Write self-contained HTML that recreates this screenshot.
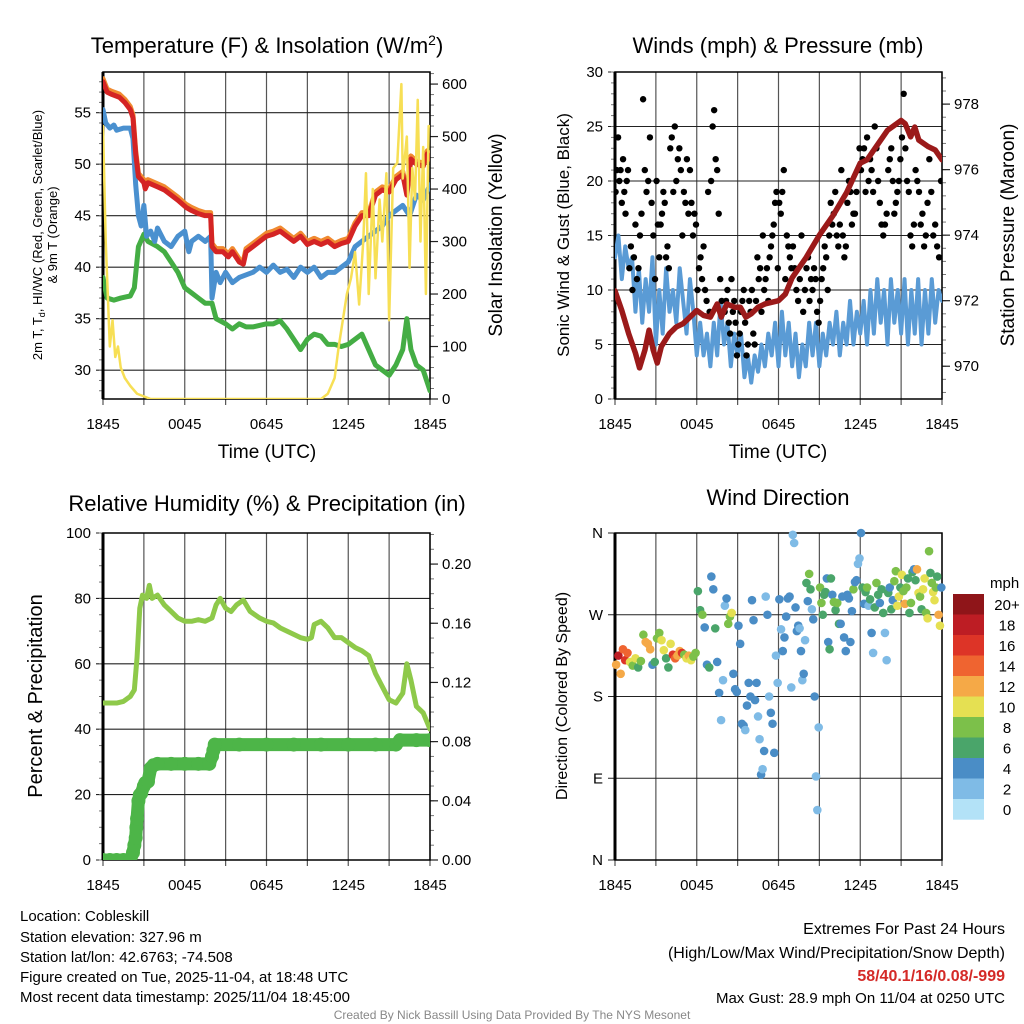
<!DOCTYPE html>
<html><head><meta charset="utf-8">
<style>
html,body{margin:0;padding:0;background:#fff;}
svg{display:block;font-family:"Liberation Sans",sans-serif;}
</style></head>
<body>
<svg id="chart" width="1024" height="1024" viewBox="0 0 1024 1024" xmlns="http://www.w3.org/2000/svg">
<defs>
<clipPath id="c1"><rect x="103" y="72" width="327" height="327"/></clipPath>
<clipPath id="c2"><rect x="615" y="72" width="327" height="327"/></clipPath>
<clipPath id="c3"><rect x="103" y="533" width="327" height="327"/></clipPath>
<clipPath id="c4"><rect x="615" y="533" width="327" height="327"/></clipPath>
</defs>
<text x="267" y="53" font-size="22" text-anchor="middle">Temperature (F) &amp; Insolation (W/m<tspan dy="-8" font-size="14">2</tspan><tspan dy="8">)</tspan></text>
<text x="778" y="53" font-size="22" text-anchor="middle">Winds (mph) &amp; Pressure (mb)</text>
<text x="267" y="511" font-size="22" text-anchor="middle">Relative Humidity (%) &amp; Precipitation (in)</text>
<text x="778" y="505" font-size="22" text-anchor="middle">Wind Direction</text>

<text transform="translate(42,235) rotate(-90)" font-size="13" text-anchor="middle">2m T, T<tspan dy="3" font-size="9">d</tspan><tspan dy="-3">, HI/WC (Red, Green, Scarlet/Blue)</tspan></text>
<text transform="translate(57,235) rotate(-90)" font-size="13" text-anchor="middle">&amp; 9m T (Orange)</text>
<text transform="translate(502,235) rotate(-90)" font-size="19" text-anchor="middle">Solar Insolation (Yellow)</text>
<text transform="translate(569,235) rotate(-90)" font-size="17" text-anchor="middle">Sonic Wind &amp; Gust (Blue, Black)</text>
<text transform="translate(1014,235) rotate(-90)" font-size="19" text-anchor="middle">Station Pressure (Maroon)</text>
<text transform="translate(42,696) rotate(-90)" font-size="20" text-anchor="middle">Percent &amp; Precipitation</text>
<text transform="translate(567,696) rotate(-90)" font-size="16" text-anchor="middle">Direction (Colored By Speed)</text>
<text x="267" y="458" font-size="19" text-anchor="middle">Time (UTC)</text>
<text x="778" y="458" font-size="19" text-anchor="middle">Time (UTC)</text>

<g font-size="15">
<text x="20" y="921">Location: Cobleskill</text>
<text x="20" y="942">Station elevation: 327.96 m</text>
<text x="20" y="962">Station lat/lon: 42.6763; -74.508</text>
<text x="20" y="982">Figure created on Tue, 2025-11-04, at 18:48 UTC</text>
<text x="20" y="1002">Most recent data timestamp: 2025/11/04 18:45:00</text>
</g>
<g font-size="16" text-anchor="end">
<text x="1005" y="934">Extremes For Past 24 Hours</text>
<text x="1005" y="958">(High/Low/Max Wind/Precipitation/Snow Depth)</text>
<text x="1005" y="981" fill="#d42a27" font-weight="bold">58/40.1/16/0.08/-999</text>
<text x="1005" y="1003" font-size="15">Max Gust: 28.9 mph On 11/04 at 0250 UTC</text>
</g>
<text x="512" y="1019" font-size="12" fill="#888" text-anchor="middle">Created By Nick Bassill Using Data Provided By The NYS Mesonet</text>
<g id="root"></g>
</svg>
<script>
// ---- data ----
const timeTickLabels = ["1845","0045","0645","1245","1845"];
const tempTicks = [30,35,40,45,50,55];
const solarTicks = [0,100,200,300,400,500,600];
const windTicks = [0,5,10,15,20,25,30];
const presTicks = [970,972,974,976,978];
const rhTicks = [0,20,40,60,80,100];
const precipTicks = [0,0.04,0.08,0.12,0.16,0.20];
const dirTicks = [0,90,180,270,360];
const dirLabels = ["N","E","S","W","N"];
const speedBins = ["0","2","4","6","8","10","12","14","16","18","20+"];
const speedColors = ["#b3e2f7","#7fbbe6","#4a8dc6","#4aa56a","#7cc04a","#e5e052","#f5a947","#ef6430","#dd3427","#bd1d24","#8f1519"];

const redT = [[0,58],[0.3,57],[0.6,56.8],[1.2,56.5],[1.6,56],[2.0,55.3],[2.2,54.5],[2.4,51],[2.6,48.8],[3.0,48.2],[3.1,47.6],[3.3,48.2],[4,47.8],[4.5,47.5],[5.5,46.5],[6.1,45.8],[6.5,45.5],[7,45.2],[7.5,45],[7.9,45],[8.0,42],[8.3,41.5],[8.8,41.5],[9.2,41],[9.5,41.5],[10,40.5],[10.3,40.3],[10.5,41.5],[11,42],[11.5,42.5],[12,43],[12.5,43.2],[13,43.5],[13.5,43],[14,42.5],[14.5,43],[15,42.2],[15.5,42.5],[16,42.2],[16.5,42.5],[17,42],[17.5,42.3],[18,42.5],[18.5,44],[19,45],[19.5,45],[20,47],[20.5,47.5],[21,47.3],[21.5,48.5],[22,49],[22.3,47],[22.6,50.5],[23,50],[23.5,49.8],[23.8,51],[24,50.5]];
const blueT = [[0,55.3],[0.2,54],[0.5,53.5],[0.8,53.8],[1,53.3],[1.5,53.5],[2,53.5],[2.2,52.5],[2.4,48],[2.6,45],[2.8,44],[3,46],[3.2,43],[3.5,43.5],[3.8,42.5],[4,43.8],[4.5,42.5],[5,42],[5.5,43],[6,43.5],[6.3,41.5],[6.5,42.5],[7,43],[7.5,42.5],[7.9,43],[8,37],[8.3,39.5],[8.6,38.5],[9,39.5],[9.5,38.5],[10,39],[11,39.5],[11.5,40],[12,39.5],[12.5,40.2],[13,39.5],[13.5,39.8],[14,39],[14.5,40],[15,39.5],[15.5,40],[16,39],[16.5,39.5],[17,39.5],[17.5,40],[18,40.5],[18.5,42],[19,42.5],[19.5,43],[20,43.5],[20.5,44],[21,45],[21.5,45.5],[22,46],[22.5,45],[23,47],[23.5,46.5],[24,48]];
const greenT = [[0,39],[0.3,37],[0.8,36.8],[1.3,37],[2,37.2],[2.3,38],[2.6,42],[3,43.2],[3.3,42.5],[4,42],[4.5,41.5],[5,40.5],[5.5,39.5],[6,38],[6.5,37.5],[7,37],[7.5,36.5],[8,36.5],[8.3,35],[9,34.5],[9.5,34],[10,34.5],[10.5,34.2],[11,34.2],[12,34.5],[12.5,34.5],[13,34.8],[13.5,34],[14,33],[14.5,32],[15,33],[15.5,33.5],[16,33.3],[16.5,32.5],[17,32.5],[17.5,32.3],[18,32.5],[18.5,33],[19,33.5],[19.5,32],[20,30.5],[20.5,30],[21,29.5],[21.5,30.5],[22,32],[22.3,35],[22.6,32],[23,30.5],[23.5,30],[24,28]];
const solar = [[0,520],[0.2,300],[0.5,100],[0.7,150],[0.9,80],[1.1,100],[1.3,60],[1.6,40],[2,25],[2.5,10],[3,5],[3.5,0],[16,0],[16.5,10],[17,40],[17.3,100],[17.6,150],[17.9,200],[18.2,230],[18.5,280],[18.8,180],[19.1,300],[19.3,430],[19.5,200],[19.8,400],[20,230],[20.3,380],[20.5,300],[20.8,430],[21,150],[21.3,440],[21.6,450],[21.9,600],[22,420],[22.3,500],[22.5,250],[22.7,440],[22.9,380],[23.1,570],[23.3,300],[23.5,480],[23.7,200],[23.9,520],[24,520]];
const windSpd = [[0,13],[0.25,15],[0.5,11],[0.75,14],[1,12],[1.25,13],[1.5,8],[1.75,12],[2,7],[2.25,11],[2.5,8],[2.75,13],[3,5],[3.25,10],[3.5,6],[3.75,12],[4,8],[4.25,10],[4.5,7],[4.75,12],[5,9],[5.25,6],[5.5,11],[5.75,8],[6,4],[6.25,7],[6.5,4],[6.75,6],[7,3],[7.25,7],[7.5,4],[7.75,9],[8,5],[8.25,7],[8.5,3],[8.75,6],[9,4],[9.25,6],[9.5,2],[9.75,4],[10,1.5],[10.25,4],[10.5,2.5],[10.75,5],[11,3],[11.25,6],[11.5,4],[11.75,7],[12,3],[12.25,8],[12.5,4],[12.75,7],[13,3],[13.25,6],[13.5,2],[13.75,5],[14,3],[14.25,7],[14.5,4],[14.75,7],[15,3],[15.25,6],[15.5,4],[15.75,7],[16,5],[16.25,8],[16.5,4],[16.75,7],[17,5],[17.25,9],[17.5,5],[17.75,8],[18,6],[18.25,9],[18.5,5],[18.75,10],[19,6],[19.25,11],[19.5,7],[19.75,10],[20,5],[20.25,11],[20.5,7],[20.75,10],[21,6],[21.25,11],[21.5,5],[21.75,10],[22,6],[22.25,11],[22.5,5],[22.75,10],[23,6],[23.25,11],[23.5,7],[23.75,10],[24,9]];
const pressure = [[0,972.3],[0.5,971.7],[1,971],[1.5,970.4],[1.8,969.95],[2.2,970.5],[2.5,971.1],[2.8,970.5],[3.1,970.1],[3.4,970.6],[4,971.0],[4.5,971.2],[5,971.3],[5.5,971.5],[6,971.7],[6.5,971.55],[7,971.5],[7.5,971.9],[7.8,971.5],[8.2,971.9],[8.8,971.8],[9.2,971.8],[9.6,971.5],[10,971.6],[10.5,971.8],[11,971.9],[12,972.0],[12.5,972.2],[13,972.7],[14,973.3],[15,974.0],[16,974.6],[17,975.3],[18,976.2],[18.5,976.3],[19,976.6],[20,977.2],[21,977.5],[21.3,977.4],[21.7,977.0],[22,977.3],[22.3,976.9],[23,976.7],[23.5,976.6],[24,976.3]];
const gustByHour = [[19,21,24,20,21,18,22,19,17,20,21],[12,14,10,13,16,11,12,15,17],[27.5,21,19,20,24,18,15,11],[20,16,13,16,17,19,18,13,14,12],[23,24,19,25,20,22,23,21,15],[19,18,22,17,21,18,15,17,16],[10,12,13,11,14,10,9,19,8],[20,25,26.5,22,21,17,11,9,8],[8,9,10,7,6,11,8,9,7,4],[5,6,8,9,10,7,4,5,9,8],[10,6,5,9,13,11,12,8,15,10],[11,12,9,13,14,15,16,18,19,12],[18,17,19,21,11,15,14,13,12],[14,12,10,9,11,15,8,10],[12,13,9,11,10,12,11,8,7],[9,11,12,14,13,10,15,18,16],[17,19,15,14,16,21,15,13,14],[18,20,19,16,17,17,19,21,23],[21,22,23,19,24,20,22,21,19],[25,23,20,18,16,15,16,17],[21,22,23,20,17,18,19,20,22],[24,28,23,20,19,15,14,16],[21,20,19,16,17,14,15,18],[22,19,15,16,14,13,20]];
const rh = [[0,48],[0.5,48],[1,48],[1.5,48.5],[2,50],[2.3,52],[2.5,62],[2.7,77],[2.9,81],[3.2,80],[3.4,84],[3.6,80],[4,81],[4.5,78],[5,76],[5.5,74],[6,73],[6.5,73],[7,73.5],[7.5,73],[8,74],[8.3,78],[8.6,80],[9,77],[9.4,76],[9.8,78],[10.3,79.5],[10.8,76],[11.5,74],[12,73],[12.5,72.5],[13,71],[13.5,70],[14,69],[14.5,68],[15,67.5],[15.3,68],[15.5,72],[16,73],[16.5,71],[17,68],[17.5,68],[18,66.5],[18.5,65],[19,64],[19.5,62.5],[20,57],[20.5,53],[21,49],[21.5,48],[22,51],[22.3,60],[22.6,55],[23,47],[23.5,45],[24,40]];
const precip = [[0,0],[0.5,0],[1,0],[1.5,0],[2,0],[2.2,0.005],[2.3,0.01],[2.4,0.015],[2.45,0.022],[2.5,0.028],[2.6,0.04],[2.7,0.044],[2.8,0.045],[3.0,0.05],[3.1,0.052],[3.3,0.053],[3.5,0.062],[3.7,0.064],[4,0.065],[5,0.065],[6,0.065],[7,0.065],[7.8,0.065],[8.0,0.07],[8.1,0.074],[8.2,0.078],[10,0.078],[12,0.078],[14,0.078],[16,0.078],[18,0.078],[20,0.078],[21.5,0.078],[21.8,0.081],[23,0.081],[24,0.081]];
const dirByHour = [
[[215,12],[225,18],[205,13],[232,14],[220,16],[228,15]],
[[218,10],[214,8],[222,10],[212,6],[219,9]],
[[248,8],[240,12],[238,12],[232,12],[215,4],[218,6]],
[[244,8],[250,8],[242,10],[231,10],[222,6],[212,6]],
[[238,11],[226,16],[222,14],[225,12],[230,12],[228,16]],
[[226,8],[222,10],[225,12],[220,10],[224,8],[228,8]],
[[296,6],[275,6],[270,8],[256,4],[215,4],[212,6]],
[[312,4],[298,4],[255,6],[218,4],[184,4],[154,2],[198,2]],
[[280,2],[288,4],[260,8],[268,8],[272,10],[205,4],[188,4],[185,4]],
[[258,4],[238,4],[150,4],[148,4],[143,2],[170,4],[195,4],[180,4]],
[[286,4],[264,4],[176,4],[195,4],[158,2],[133,2],[94,4],[100,2],[120,4]],
[[290,2],[270,4],[180,2],[162,4],[150,4],[118,4],[225,2],[195,2]],
[[287,4],[254,2],[230,4],[245,4],[268,4],[288,4],[290,4],[190,2]],
[[358,2],[349,2],[278,4],[252,4],[258,4],[255,2],[230,4],[198,2],[205,4],[242,2]],
[[305,6],[285,4],[315,8],[298,6],[276,2],[265,4],[180,4],[92,2],[55,2],[146,2]],
[[300,8],[283,8],[270,6],[292,6],[295,6],[310,4],[240,4],[232,6],[310,6],[292,4]],
[[284,8],[275,6],[283,8],[260,6],[260,4],[290,4],[245,4],[230,4]],
[[292,4],[288,4],[240,4],[274,4],[298,8],[306,4],[308,4],[326,2],[332,2]],
[[360,4],[300,6],[282,4],[295,6],[300,8],[280,2],[287,6],[250,4],[228,2]],
[[278,6],[305,8],[292,6],[283,4],[298,6],[272,6],[250,2],[220,2]],
[[294,6],[300,4],[276,6],[286,4],[307,8],[318,8],[280,10],[290,10],[300,6]],
[[314,10],[296,8],[282,12],[300,8],[310,6],[272,6],[283,8],[317,6],[320,4]],
[[308,6],[320,12],[294,10],[290,8],[276,6],[298,10],[310,10],[272,8],[266,10]],
[[340,8],[316,6],[305,8],[295,10],[286,10],[300,8],[312,6],[270,12],[258,10],[300,4]]];

// ---- drawing ----
const NS="http://www.w3.org/2000/svg";
const root=document.getElementById('root');
function mk(tag,attrs,parent){const e=document.createElementNS(NS,tag);for(const k in attrs)e.setAttribute(k,attrs[k]);(parent||root).appendChild(e);return e;}
function lin(d0,d1,r0,r1){return v=>r0+(v-d0)/(d1-d0)*(r1-r0);}

const panels=[
 {id:'temp',x0:103,x1:430,y0:72,y1:399,lmin:27.2,lmax:58.95,lt:tempTicks,lf:v=>v,lminor:1,rmin:0,rmax:623,rt:solarTicks,rf:v=>v,rminor:20,hgrid:tempTicks,clip:'c1'},
 {id:'winds',x0:615,x1:942,y0:72,y1:399,lmin:0,lmax:30,lt:windTicks,lf:v=>v,lminor:1,rmin:969.0,rmax:978.98,rt:presTicks,rf:v=>v,rminor:0.4,hgrid:windTicks,clip:'c2'},
 {id:'rh',x0:103,x1:430,y0:533,y1:860,lmin:0,lmax:100,lt:rhTicks,lf:v=>v,lminor:5,rmin:0,rmax:0.221,rt:precipTicks,rf:v=>v.toFixed(2),rminor:0.01,hgrid:rhTicks,clip:'c3'},
 {id:'dir',x0:615,x1:942,y0:533,y1:860,lmin:0,lmax:360,lt:dirTicks,lf:(v,i)=>dirLabels[i],lminor:0,rmin:null,hgrid:dirTicks,clip:'c4'}
];
panels.forEach(p=>{
 p.X=lin(0,24,p.x0,p.x1);p.YL=lin(p.lmin,p.lmax,p.y1,p.y0);
 if(p.rmin!==null)p.YR=lin(p.rmin,p.rmax,p.y1,p.y0);
 const g=mk('g',{});
 
 
 for(let h=0;h<=24;h+=3){const l=mk('line',{x1:p.X(h),x2:p.X(h),y1:p.y0,y2:p.y1+6,stroke:'#555','stroke-width':1.2},g);
  
  }
 p.hgrid.forEach(v=>{const l=mk('line',{x1:p.x0-7,x2:p.x1,y1:p.YL(v),y2:p.YL(v),stroke:'#222','stroke-width':1.1},g);
  
  });
 if(p.lminor){for(let v=Math.ceil(p.lmin/p.lminor)*p.lminor;v<=p.lmax;v+=p.lminor){mk('line',{x1:p.x0-4,x2:p.x0,y1:p.YL(v),y2:p.YL(v),stroke:'#777','stroke-width':1},g);}}
 p.lt.forEach((v,i)=>{const t=mk('text',{x:p.x0-12,y:p.YL(v)+5,'font-size':15,'text-anchor':'end'},g);t.textContent=p.lf(v,i);
  
  });
 if(p.rmin!==null){
  for(let v=Math.ceil(p.rmin/p.rminor)*p.rminor;v<=p.rmax;v+=p.rminor){mk('line',{x1:p.x1,x2:p.x1+4,y1:p.YR(v),y2:p.YR(v),stroke:'#777','stroke-width':1},g);}
  p.rt.forEach(v=>{mk('line',{x1:p.x1,x2:p.x1+8,y1:p.YR(v),y2:p.YR(v),stroke:'#222','stroke-width':1.2},g);
   const t=mk('text',{x:p.x1+12,y:p.YR(v)+5,'font-size':15},g);t.textContent=p.rf(v);
   
   });
 }
 timeTickLabels.forEach((s,i)=>{const t=mk('text',{x:p.X(i*6),y:p.y1+30,'font-size':15,'text-anchor':'middle'},g);t.textContent=s;
  
  });
 const fr=mk('rect',{x:p.x0,y:p.y0,width:p.x1-p.x0,height:p.y1-p.y0,fill:'none',stroke:'#000','stroke-width':1.5},g);
 
 
 mk('line',{x1:p.x0,x2:p.x0,y1:p.y0,y2:p.y1,stroke:'#000','stroke-width':3},g);
});
function line(p,data,Y,color,w,name){
 const e=mk('polyline',{points:data.map(d=>p.X(d[0])+','+Y(d[1])).join(' '),fill:'none',stroke:color,'stroke-width':w,'stroke-linejoin':'round','stroke-linecap':'round','clip-path':'url(#'+p.clip+')'});
 
 
 return e;
}
const P1=panels[0],P2=panels[1],P3=panels[2],P4=panels[3];
line(P1,greenT,P1.YL,'#44ad44',5,'dewpoint-line');
line(P1,blueT,P1.YL,'#4a90cf',5,'wind-chill-line');
line(P1,redT.map(d=>[d[0],d[1]+0.3]),P1.YL,'#f08a30',5,'temp-9m-line');
line(P1,redT,P1.YL,'#d42424',5,'temp-2m-line');
line(P1,solar,P1.YR,'#f7df55',2.5,'solar-line');

line(P2,windSpd,P2.YL,'#5a9bd5',4,'wind-speed-line');
const gg=mk('g',{'clip-path':'url(#c2)'});


gustByHour.forEach((vals,h)=>vals.forEach((v,i)=>{const c=mk('circle',{cx:P2.X(h+(i+0.5)/vals.length),cy:P2.YL(v),r:3.2,fill:'#000'},gg);
 
 }));
line(P2,pressure,P2.YR,'#9b1a1a',5.5,'pressure-line');

line(P3,rh,P3.YL,'#8ec94a',5,'rh-line');
const pg=mk('g',{'clip-path':'url(#c3)'});


mk('polyline',{points:precip.map(d=>P3.X(d[0])+','+P3.YR(d[1])).join(' '),fill:'none',stroke:'#4db548','stroke-width':13,'stroke-linejoin':'round','stroke-linecap':'round'},pg);
precip.forEach(d=>{const c=mk('circle',{cx:P3.X(d[0]),cy:P3.YR(d[1]),r:7,fill:'#4db548'},pg);
 
 });

const dg=mk('g',{});


dirByHour.forEach((pts,h)=>pts.forEach((d,i)=>{const ci=Math.min(10,Math.floor(d[1]/2));
 const c=mk('circle',{cx:P4.X(h+(i+0.5)/pts.length),cy:P4.YL(d[0]),r:4.3,fill:speedColors[ci]},dg);
 
 }));

const lg=mk('g',{});


const lt=mk('text',{x:990,y:588,'font-size':15},lg);lt.textContent='mph';


speedBins.forEach((s,i)=>{const k=10-i;const y=594+i*20.5;
 const r=mk('rect',{x:953,y:y,width:31,height:20.7,fill:speedColors[k]},lg);
 
 
 const t=mk('text',{x:1007,y:y+16,'font-size':15,'text-anchor':'middle'},lg);t.textContent=speedBins[k];
 
 });
</script>
</body></html>
